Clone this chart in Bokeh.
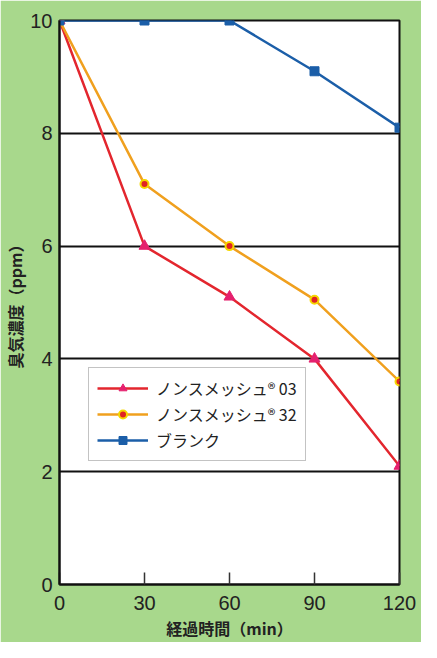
from bokeh.plotting import figure
from bokeh.models import Range1d, Legend, LegendItem, FixedTicker
from bokeh.embed import file_html
from bokeh.resources import INLINE

times = [0, 30, 60, 90, 120]
nons03 = [10.0, 6.0, 5.1, 4.0, 2.1]
nons32 = [10.0, 7.1, 6.0, 5.05, 3.6]
blank = [10.0, 10.0, 10.0, 9.1, 8.1]
series_names = ["ノンスメッシュ® 03", "ノンスメッシュ® 32", "ブランク"]
x_ticks = [0, 30, 60, 90, 120]
y_ticks = [0, 2, 4, 6, 8, 10]
grid_values = [2, 4, 6, 8]

GREEN = "#a8d88c"
JP = "Noto Sans CJK JP"
NUM = "Liberation Sans"

p = figure(width=421, height=642, output_backend="svg", toolbar_location=None,
           x_range=Range1d(0, 120), y_range=Range1d(0, 10),
           min_border_left=58, min_border_right=22, min_border_top=20,
           min_border_bottom=58)
p.background_fill_color = "white"
p.border_fill_color = GREEN
p.outline_line_color = "#111111"
p.outline_line_width = 2
p.outline_line_alpha = 1

p.xgrid.visible = False
p.ygrid.ticker = FixedTicker(ticks=grid_values)
p.ygrid.grid_line_color = "#111111"
p.ygrid.grid_line_width = 2
p.ygrid.grid_line_alpha = 1

p.xaxis.ticker = FixedTicker(ticks=x_ticks)
p.yaxis.ticker = FixedTicker(ticks=y_ticks)
for ax in (p.xaxis[0], p.yaxis[0]):
    ax.axis_line_color = "#111111"
    ax.axis_line_width = 2
    ax.major_tick_line_color = "#333333"
    ax.major_tick_line_width = 1.5
    ax.minor_tick_line_color = None
    ax.major_label_text_font = NUM
    ax.major_label_text_font_size = "20px"
    ax.major_label_text_color = "#222222"
    ax.axis_label_text_font = JP
    ax.axis_label_text_font_style = "bold"
    ax.axis_label_text_font_size = "16px"
    ax.axis_label_text_color = "#222222"
p.xaxis.major_tick_in = 12
p.xaxis.major_tick_out = 0
p.yaxis.major_tick_in = 0
p.yaxis.major_tick_out = 0
p.xaxis.major_label_standoff = 11
p.yaxis.major_label_standoff = 7
p.xaxis.axis_label = "経過時間（min）"
p.yaxis.axis_label = "臭気濃度（ppm）"
p.xaxis.axis_label_standoff = 3
p.yaxis.axis_label_standoff = 0

l1 = p.line(times, nons03, line_color="#e3262e", line_width=2.5)
m1 = p.scatter(times, nons03, marker="triangle", size=11, fill_color="#e5206e",
               line_color="#e5206e")
l2 = p.line(times, nons32, line_color="#f0a01e", line_width=2.5)
m2 = p.scatter(times, nons32, marker="circle", size=8, fill_color="#e02424",
               line_color="#f5d800", line_width=2)
l3 = p.line(times, blank, line_color="#1b5ea8", line_width=2.5)
m3 = p.scatter(times, blank, marker="square", size=9, fill_color="#1b5ea8",
               line_color="#1b5ea8")

legend = Legend(items=[
    LegendItem(label=series_names[0], renderers=[l1, m1]),
    LegendItem(label=series_names[1], renderers=[l2, m2]),
    LegendItem(label=series_names[2], renderers=[l3, m3]),
], location=(29, 123))
legend.label_text_font = JP
legend.label_text_font_size = "16px"
legend.label_text_color = "#222222"
legend.glyph_width = 51
legend.glyph_height = 20
legend.spacing = 2
legend.padding = 8
legend.margin = 0
legend.label_standoff = 8
legend.border_line_color = "#888888"
legend.border_line_width = 1.5
legend.background_fill_color = "white"
legend.background_fill_alpha = 1
p.add_layout(legend, "center")

open("out.html", "w").write(file_html(p, INLINE))
